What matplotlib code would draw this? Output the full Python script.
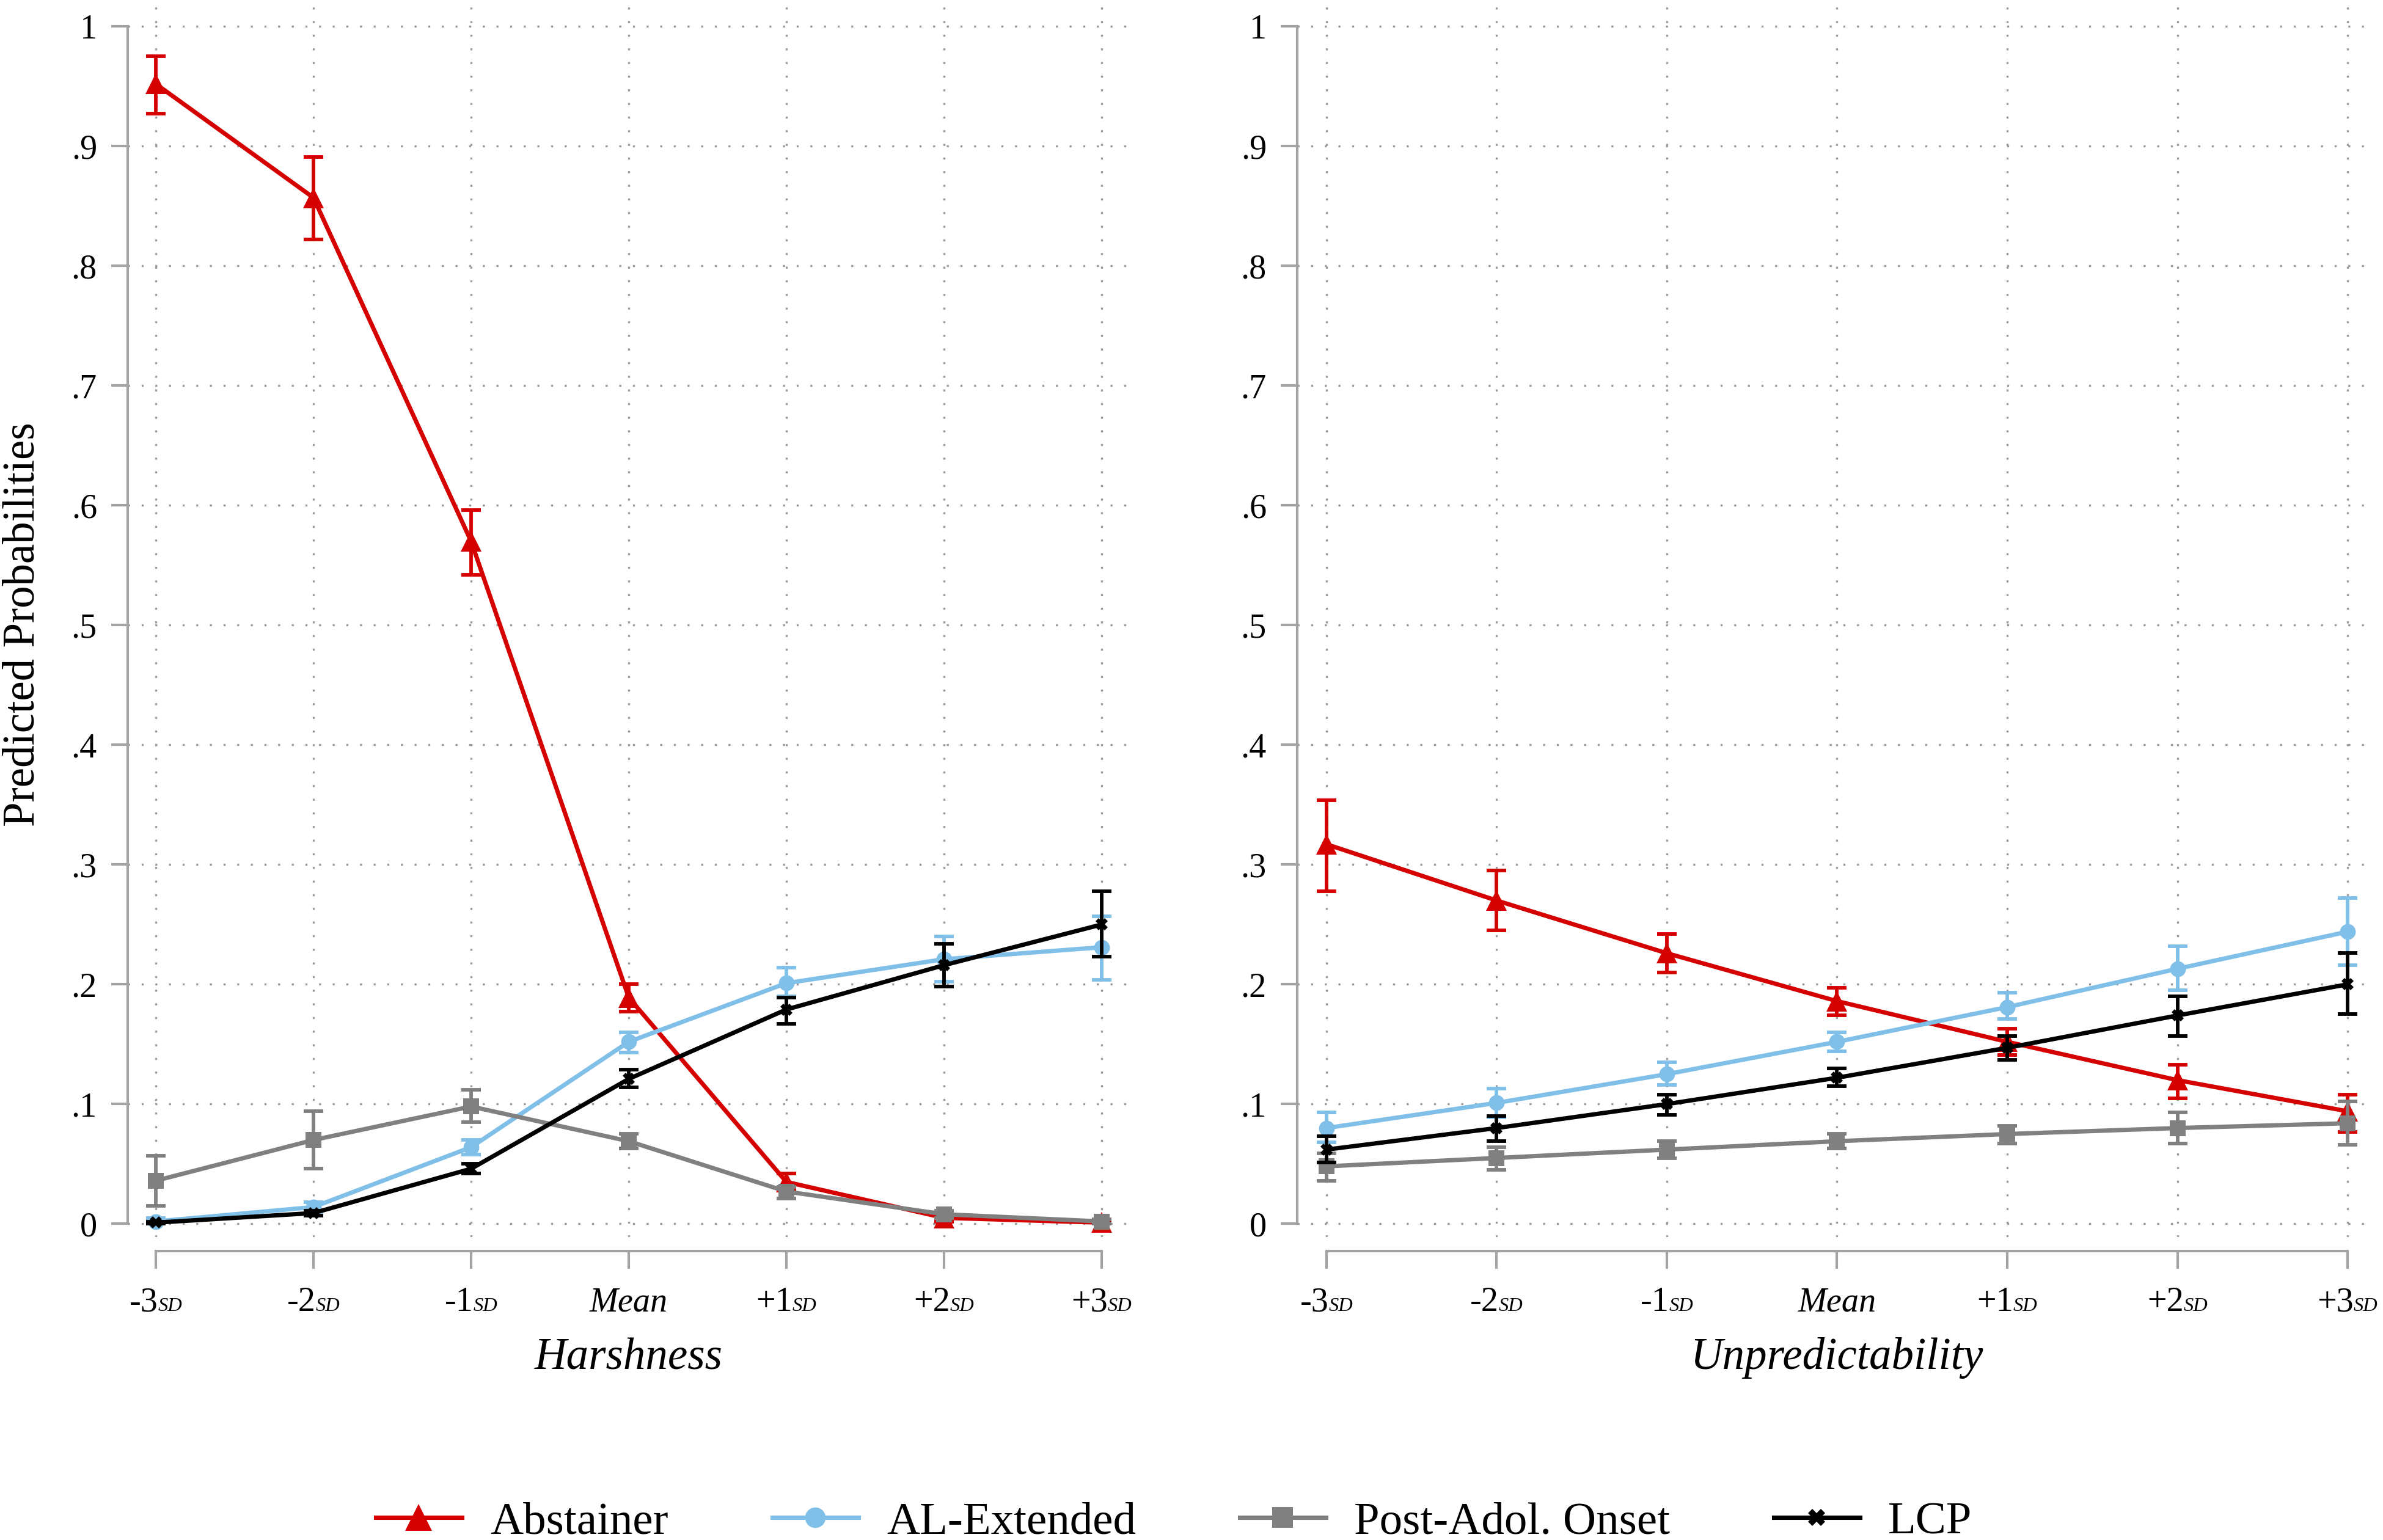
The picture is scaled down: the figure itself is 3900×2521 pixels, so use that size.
import matplotlib
matplotlib.use("Agg")
import matplotlib.pyplot as plt
from matplotlib.offsetbox import AnnotationBbox, HPacker, TextArea
from matplotlib.transforms import blended_transform_factory

plt.rcParams["font.family"] = "Liberation Serif"

ARCHIVO_GRAFICA = "out.png"

niveles = [-3, -2, -1, 0, 1, 2, 3]
etiquetas_x = [("-3", "SD"), ("-2", "SD"), ("-1", "SD"), ("Mean", ""),
               ("+1", "SD"), ("+2", "SD"), ("+3", "SD")]
ticks_y = [0, 0.1, 0.2, 0.3, 0.4, 0.5, 0.6, 0.7, 0.8, 0.9, 1.0]
etiquetas_y = ["0", ".1", ".2", ".3", ".4", ".5", ".6", ".7", ".8", ".9", "1"]
grupos = ["Abstainer", "AL-Extended", "Post-Adol. Onset", "LCP"]

# Harshness
abst_h = [0.952, 0.857, 0.570, 0.189, 0.035, 0.005, 0.001]
abst_h_lo = [0.927, 0.822, 0.542, 0.177, 0.029, 0.002, 0.000]
abst_h_hi = [0.975, 0.891, 0.596, 0.200, 0.042, 0.008, 0.002]
al_h = [0.002, 0.014, 0.064, 0.152, 0.201, 0.221, 0.231]
al_h_lo = [0.000, 0.010, 0.058, 0.143, 0.190, 0.202, 0.204]
al_h_hi = [0.005, 0.018, 0.070, 0.160, 0.214, 0.240, 0.257]
post_h = [0.036, 0.070, 0.098, 0.069, 0.027, 0.008, 0.002]
post_h_lo = [0.015, 0.046, 0.085, 0.063, 0.021, 0.005, 0.000]
post_h_hi = [0.057, 0.094, 0.112, 0.075, 0.031, 0.011, 0.004]
lcp_h = [0.001, 0.009, 0.046, 0.121, 0.179, 0.216, 0.250]
lcp_h_lo = [0.000, 0.007, 0.042, 0.114, 0.167, 0.198, 0.223]
lcp_h_hi = [0.002, 0.011, 0.050, 0.129, 0.189, 0.234, 0.278]

# Unpredictability
abst_u = [0.317, 0.270, 0.226, 0.186, 0.152, 0.120, 0.094]
abst_u_lo = [0.278, 0.245, 0.210, 0.174, 0.141, 0.105, 0.077]
abst_u_hi = [0.354, 0.295, 0.242, 0.197, 0.163, 0.133, 0.108]
al_u = [0.080, 0.101, 0.125, 0.152, 0.181, 0.213, 0.244]
al_u_lo = [0.068, 0.089, 0.116, 0.144, 0.171, 0.195, 0.216]
al_u_hi = [0.093, 0.113, 0.135, 0.160, 0.193, 0.232, 0.272]
post_u = [0.048, 0.055, 0.062, 0.069, 0.075, 0.080, 0.084]
post_u_lo = [0.036, 0.045, 0.055, 0.063, 0.067, 0.067, 0.066]
post_u_hi = [0.059, 0.064, 0.069, 0.075, 0.082, 0.093, 0.102]
lcp_u = [0.062, 0.080, 0.100, 0.122, 0.147, 0.174, 0.200]
lcp_u_lo = [0.051, 0.069, 0.091, 0.115, 0.137, 0.157, 0.175]
lcp_u_hi = [0.073, 0.090, 0.108, 0.130, 0.157, 0.190, 0.226]

ESTILOS = [
    dict(color="#d50000", marker="^", markersize=8.2),
    dict(color="#80bfe8", marker="o", markersize=6.2),
    dict(color="#808080", marker="s", markersize=6.2),
    dict(color="#000000", marker="X", markersize=5),
]
GRIS_EJE = "#a3a3a3"


def dibujar_panel(fig, ax, series, titulo, xlim):
    lineas = []
    for (y, lo, hi), estilo in zip(series, ESTILOS):
        err = [[v - a for v, a in zip(y, lo)], [b - v for v, b in zip(y, hi)]]
        ax.errorbar(niveles, y, yerr=err, fmt="none", ecolor=estilo["color"],
                    elinewidth=1.4, capsize=3.9, capthick=1.4)
        linea, = ax.plot(niveles, y, color=estilo["color"], linewidth=1.7,
                         marker=estilo["marker"], markersize=estilo["markersize"],
                         markeredgewidth=0)
        lineas.append(linea)

    ax.set_xlim(*xlim)
    ax.set_ylim(-0.011, 1.019)
    ax.set_yticks(ticks_y)
    ax.set_yticklabels(etiquetas_y)
    ax.set_xticks(niveles)
    ax.tick_params(axis="x", labelbottom=False, color=GRIS_EJE, width=1,
                   length=7, direction="out")
    ax.tick_params(axis="y", labelsize=13.5, color=GRIS_EJE, width=1,
                   length=6.5, direction="out", pad=5.5)

    for lado in ("top", "right"):
        ax.spines[lado].set_visible(False)
    ax.spines["left"].set_color(GRIS_EJE)
    ax.spines["left"].set_linewidth(1)
    ax.spines["left"].set_bounds(0, 1)
    ax.spines["bottom"].set_color(GRIS_EJE)
    ax.spines["bottom"].set_linewidth(1)
    ax.spines["bottom"].set_position(("outward", 5.5))
    ax.spines["bottom"].set_bounds(-3, 3)

    ax.set_axisbelow(True)
    ax.grid(True, color="#9a9a9a", linestyle=(0, (1, 5.7)), linewidth=0.8)

    # etiquetas del eje x con subindice SD
    for x, (principal, sub) in zip(niveles, etiquetas_x):
        estilo = "italic" if principal == "Mean" else "normal"
        hijos = [TextArea(principal, textprops=dict(size=13.5, style=estilo))]
        if sub:
            hijos.append(TextArea(sub, textprops=dict(size=7.8, style="italic")))
        caja = HPacker(children=hijos, align="baseline", pad=0, sep=0)
        ab = AnnotationBbox(caja, (x, 1 - 2158 / 2521),
                            xycoords=("data", "figure fraction"),
                            box_alignment=(0.5, 0.0), frameon=False, pad=0)
        ax.add_artist(ab)

    trans = blended_transform_factory(ax.transData, fig.transFigure)
    ax.text(0, 1 - 2241 / 2521, titulo, transform=trans, ha="center",
            va="baseline", fontsize=17.5, style="italic")
    return lineas


def main():
    fig = plt.figure(figsize=(13, 2521 / 300), dpi=300)
    ax_h = fig.add_axes([209 / 3900, 496 / 2521, 1640 / 3900, 2019 / 2521])
    ax_u = fig.add_axes([2123 / 3900, 496 / 2521, 1755 / 3900, 2019 / 2521])

    series_h = [(abst_h, abst_h_lo, abst_h_hi), (al_h, al_h_lo, al_h_hi),
                (post_h, post_h_lo, post_h_hi), (lcp_h, lcp_h_lo, lcp_h_hi)]
    series_u = [(abst_u, abst_u_lo, abst_u_hi), (al_u, al_u_lo, al_u_hi),
                (post_u, post_u_lo, post_u_hi), (lcp_u, lcp_u_lo, lcp_u_hi)]

    lineas = dibujar_panel(fig, ax_h, series_h, "Harshness", (-3.178, 3.178))
    dibujar_panel(fig, ax_u, series_u, "Unpredictability", (-3.172, 3.129))

    fig.text(38 / 3900, 1 - 1022 / 2521, "Predicted Probabilities", rotation=90,
             ha="center", va="center", fontsize=17.5)

    fig.legend(lineas, grupos, loc="center", bbox_to_anchor=(0.4926, 0.0115),
               ncol=4, frameon=False, fontsize=18, handlelength=1.88,
               handletextpad=0.62, columnspacing=2.26, borderpad=0,
               markerscale=1.3)

    fig.savefig(ARCHIVO_GRAFICA, dpi=300)


if __name__ == "__main__":
    main()
